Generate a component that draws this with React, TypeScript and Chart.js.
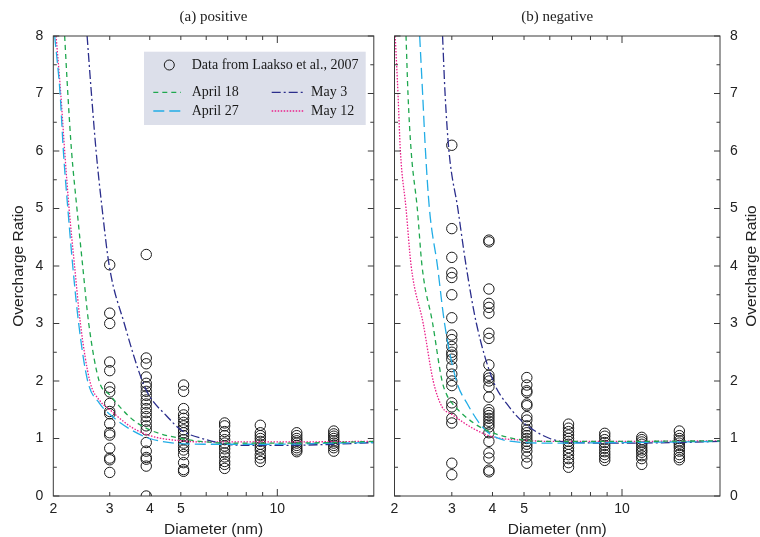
import { useEffect, useRef } from "react";
import { Chart, registerables } from "chart.js";

Chart.register(...registerables);

// ---------- data ----------
const columnDiameters = [3.0, 3.9, 5.1, 6.85, 8.85, 11.5, 15.0];

const positiveColumns = [
  [4.02, 3.18, 3.0, 2.33, 2.18, 1.89, 1.81, 1.61, 1.47, 1.43, 1.26, 1.1, 1.06, 0.83, 0.66, 0.63, 0.41],
  [4.2, 2.4, 2.3, 2.07, 1.96, 1.9, 1.82, 1.75, 1.67, 1.6, 1.52, 1.45, 1.38, 1.3, 1.22, 1.15, 0.93, 0.78, 0.67, 0.64, 0.52, 0.0],
  [1.93, 1.82, 1.52, 1.41, 1.35, 1.28, 1.22, 1.15, 1.1, 1.05, 0.98, 0.92, 0.86, 0.8, 0.72, 0.58, 0.46, 0.43],
  [1.27, 1.22, 1.12, 1.05, 0.98, 0.92, 0.87, 0.82, 0.75, 0.68, 0.6, 0.55, 0.48],
  [1.23, 1.1, 1.05, 1.0, 0.95, 0.9, 0.85, 0.8, 0.72, 0.66, 0.6],
  [1.1, 1.05, 1.0, 0.96, 0.92, 0.88, 0.84, 0.8, 0.77],
  [1.13, 1.08, 1.04, 1.0, 0.96, 0.92, 0.88, 0.84, 0.78],
];

const negativeColumns = [
  [6.1, 4.65, 4.15, 3.88, 3.8, 3.5, 3.1, 2.8, 2.72, 2.6, 2.5, 2.45, 2.38, 2.25, 2.12, 2.0, 1.92, 1.62, 1.55, 1.35, 1.27, 0.57, 0.37],
  [4.45, 4.42, 3.6, 3.35, 3.28, 3.18, 2.83, 2.74, 2.28, 2.1, 2.05, 2.0, 1.9, 1.72, 1.5, 1.45, 1.4, 1.35, 1.3, 1.25, 1.2, 1.1, 0.95, 0.75, 0.66, 0.45, 0.42],
  [2.06, 1.93, 1.83, 1.8, 1.6, 1.57, 1.38, 1.32, 1.22, 1.15, 1.1, 1.05, 1.0, 0.95, 0.9, 0.85, 0.78, 0.68, 0.57],
  [1.25, 1.18, 1.12, 1.06, 1.0, 0.95, 0.9, 0.84, 0.78, 0.72, 0.65, 0.58, 0.5],
  [1.09, 1.04, 0.98, 0.93, 0.88, 0.83, 0.77, 0.72, 0.67, 0.62],
  [1.02, 0.98, 0.94, 0.9, 0.85, 0.8, 0.76, 0.7, 0.65, 0.55],
  [1.13, 1.05, 1.0, 0.96, 0.92, 0.88, 0.84, 0.78, 0.72, 0.67, 0.63],
];

// positive panel curves
const posApr18D = [2.17, 2.22, 2.28, 2.37, 2.47, 2.58, 2.78, 3.0, 3.5, 4.0, 5.0, 6.0, 7.0, 10, 15, 20];
const posApr18V = [8, 7, 6, 5, 4, 3, 2, 1.76, 1.35, 1.15, 1.0, 0.94, 0.92, 0.92, 0.93, 0.95];
const posApr27D = [2.02, 2.1, 2.15, 2.22, 2.3, 2.4, 2.56, 2.78, 3.0, 3.5, 4.0, 5.0, 6.0, 8.0, 10, 15, 20];
const posApr27V = [8, 7, 6, 5, 4, 3, 2, 1.62, 1.42, 1.15, 1.0, 0.91, 0.9, 0.9, 0.9, 0.92, 0.93];
const posMay3D = [2.55, 2.63, 2.72, 2.84, 2.99, 3.33, 3.79, 4.0, 4.5, 5.0, 6.0, 7.0, 8.0, 10, 15, 20];
const posMay3V = [8, 7, 6, 5, 4, 3, 2, 1.73, 1.4, 1.15, 0.98, 0.9, 0.88, 0.88, 0.9, 0.93];
const posMay12D = [2.04, 2.11, 2.17, 2.24, 2.33, 2.43, 2.6, 2.8, 3.0, 3.5, 4.0, 5.0, 6.0, 10, 20];
const posMay12V = [8, 7, 6, 5, 4, 3, 2, 1.65, 1.5, 1.2, 1.05, 0.96, 0.94, 0.94, 0.95];

// negative panel curves
const negApr18D = [2.17, 2.2, 2.25, 2.35, 2.43, 2.62, 2.8, 2.9, 3.0, 3.5, 4.0, 5.0, 6.0, 10, 20];
const negApr18V = [8, 7, 6, 5, 4, 3, 2, 1.75, 1.62, 1.27, 1.1, 0.97, 0.95, 0.95, 0.96];
const negApr27D = [2.39, 2.44, 2.49, 2.56, 2.71, 2.85, 3.1, 3.35, 3.7, 4.0, 5.0, 6.0, 10, 20];
const negApr27V = [8, 7, 6, 5, 4, 3, 2, 1.6, 1.22, 1.05, 0.93, 0.92, 0.93, 0.95];
const negMay3D = [2.81, 2.86, 2.94, 3.13, 3.32, 3.57, 4.02, 4.5, 5.0, 6.0, 7.0, 10, 15, 20];
const negMay3V = [8, 7, 6, 5, 4, 3, 2, 1.55, 1.27, 1.0, 0.93, 0.92, 0.93, 0.95];
const negMay12D = [2.01, 2.05, 2.085, 2.17, 2.25, 2.45, 2.63, 2.8, 3.0, 3.5, 4.0, 5.0, 6.0, 10, 20];
const negMay12V = [8, 7, 6, 5, 4, 3, 2, 1.55, 1.42, 1.17, 1.03, 0.97, 0.95, 0.95, 0.96];

const xTickLabels = [2, 3, 4, 5, 10];
const xMinorTicks = [3, 4, 5, 6, 7, 8, 9];
const xMajorTicks = [10];
const yTickValues = [0, 1, 2, 3, 4, 5, 6, 7, 8];
const yMinorTicks = [0.5, 1.5, 2.5, 3.5, 4.5, 5.5, 6.5, 7.5];

const seriesLabels = ["April 18", "April 27", "May 3", "May 12"];
const dataLabel = "Data from Laakso et al., 2007";

// ---------- styles ----------
const COLORS = ["#1fa84f", "#22ade6", "#2b2e8c", "#ea1f8a"];
const DASHES = [[5, 4], [11, 5], [9, 3, 2, 3], [1.5, 1.5]];
const AXIS_COLOR = "#3a3a3a";
const SANS = "'Liberation Sans', Arial, sans-serif";
const SERIF = "'Liberation Serif', 'Times New Roman', serif";

function curveDataset(label: string, ds: number[], vs: number[], idx: number) {
  return {
    type: "line" as const,
    label,
    data: ds.map((d, i) => ({ x: d, y: vs[i] })),
    borderColor: COLORS[idx],
    borderWidth: 1.3,
    borderDash: DASHES[idx],
    pointRadius: 0,
    fill: false,
    cubicInterpolationMode: "monotone" as const,
    order: 0,
  };
}

function pointsDataset(columns: number[][]) {
  const pts: { x: number; y: number }[] = [];
  columns.forEach((col, i) => col.forEach((v) => pts.push({ x: columnDiameters[i], y: v })));
  return {
    type: "scatter" as const,
    label: dataLabel,
    data: pts,
    pointRadius: 5.2,
    pointBorderWidth: 1,
    pointBorderColor: "#1a1a1a",
    pointBackgroundColor: "rgba(0,0,0,0)",
    showLine: false,
    order: 1,
  };
}

const framePlugin = {
  id: "frame",
  afterDatasetsDraw(chart: any) {
    const { ctx, chartArea: a, scales } = chart;
    const xs = scales.x;
    const ys = scales.y;
    ctx.save();
    ctx.strokeStyle = AXIS_COLOR;
    ctx.lineWidth = 1;
    ctx.strokeRect(a.left, a.top, a.right - a.left, a.bottom - a.top);
    ctx.beginPath();
    const yt = (v: number, L: number) => {
      const p = ys.getPixelForValue(v);
      ctx.moveTo(a.left, p);
      ctx.lineTo(a.left + L, p);
      ctx.moveTo(a.right, p);
      ctx.lineTo(a.right - L, p);
    };
    yTickValues.forEach((v) => yt(v, 6));
    yMinorTicks.forEach((v) => yt(v, 3.5));
    const xt = (v: number, L: number) => {
      const p = xs.getPixelForValue(v);
      ctx.moveTo(p, a.top);
      ctx.lineTo(p, a.top + L);
      ctx.moveTo(p, a.bottom);
      ctx.lineTo(p, a.bottom - L);
    };
    xMinorTicks.forEach((v) => xt(v, 4));
    xMajorTicks.forEach((v) => xt(v, 7));
    ctx.stroke();
    ctx.restore();
  },
};

const legendPlugin = {
  id: "boxLegend",
  afterDatasetsDraw(chart: any) {
    const opts = chart.options.plugins.boxLegend;
    if (!opts || !opts.show) return;
    const { ctx } = chart;
    ctx.save();
    ctx.fillStyle = "#dcdfea";
    ctx.fillRect(144, 51.7, 221.7, 73.3);
    // circle marker
    ctx.beginPath();
    ctx.arc(169.3, 65, 5, 0, Math.PI * 2);
    ctx.strokeStyle = "#1a1a1a";
    ctx.lineWidth = 1;
    ctx.stroke();
    ctx.fillStyle = "#1a1a1a";
    ctx.font = `14px ${SERIF}`;
    ctx.textBaseline = "middle";
    ctx.textAlign = "left";
    ctx.fillText(dataLabel, 191.7, 65);
    const items = [
      { i: 0, x0: 153.3, x1: 181, tx: 191.7, y: 92.3 },
      { i: 1, x0: 153.3, x1: 181, tx: 191.7, y: 111 },
      { i: 2, x0: 271.7, x1: 303.3, tx: 311, y: 92.3 },
      { i: 3, x0: 271.7, x1: 303.3, tx: 311, y: 111 },
    ];
    items.forEach((it) => {
      ctx.beginPath();
      ctx.setLineDash(DASHES[it.i]);
      ctx.strokeStyle = COLORS[it.i];
      ctx.lineWidth = 1.3;
      ctx.moveTo(it.x0, it.y);
      ctx.lineTo(it.x1, it.y);
      ctx.stroke();
      ctx.setLineDash([]);
      ctx.fillStyle = "#1a1a1a";
      ctx.fillText(seriesLabels[it.i], it.tx, it.y);
    });
    ctx.restore();
  },
};

const rightTitlePlugin = {
  id: "rightTitle",
  afterDraw(chart: any) {
    const opts = chart.options.plugins.rightTitle;
    if (!opts || !opts.text) return;
    const { ctx, chartArea: a } = chart;
    ctx.save();
    ctx.translate(chart.width - 8, (a.top + a.bottom) / 2);
    ctx.rotate(-Math.PI / 2);
    ctx.font = `15.5px ${SANS}`;
    ctx.fillStyle = "#222";
    ctx.textAlign = "center";
    ctx.textBaseline = "middle";
    ctx.fillText(opts.text, 0, 0);
    ctx.restore();
  },
};

interface PanelProps {
  title: string;
  side: "left" | "right";
  columns: number[][];
  curves: [number[], number[]][];
}

function Panel({ title, side, columns, curves }: PanelProps) {
  const ref = useRef<HTMLCanvasElement>(null);
  useEffect(() => {
    if (!ref.current) return;
    const isLeft = side === "left";
    const chart = new Chart(ref.current, {
      type: "scatter",
      data: {
        datasets: [
          ...curves.map(([d, v], i) => curveDataset(seriesLabels[i], d, v, i)),
          pointsDataset(columns),
        ] as any,
      },
      options: {
        responsive: false,
        animation: false,
        layout: {
          padding: isLeft
            ? { left: 0, right: 1.7, top: 0, bottom: 0 }
            : { left: 14.5, right: 0, top: 0, bottom: 0 },
        },
        scales: {
          x: {
            type: "logarithmic",
            min: 2,
            max: 20,
            grid: { display: false, drawTicks: false, tickLength: 0 },
            border: { display: false },
            afterBuildTicks: (s: any) => {
              s.ticks = xTickLabels.map((v) => ({ value: v }));
            },
            afterFit: (s: any) => {
              s.height = 41;
            },
            ticks: {
              autoSkip: false,
              maxRotation: 0,
              minRotation: 0,
              padding: 5,
              color: "#222",
              font: { family: SANS, size: 14 },
              callback: (v: any) => String(v),
            },
            title: {
              display: true,
              text: "Diameter (nm)",
              color: "#222",
              font: { family: SANS, size: 15.5, lineHeight: 1 },
              padding: { top: 0, bottom: 0 },
            },
          },
          y: {
            type: "linear",
            position: isLeft ? "left" : "right",
            min: 0,
            max: 8,
            grid: { display: false, drawTicks: false, tickLength: 0 },
            border: { display: false },
            afterBuildTicks: (s: any) => {
              s.ticks = yTickValues.map((v) => ({ value: v }));
            },
            afterFit: (s: any) => {
              s.width = isLeft ? 53.3 : 40;
            },
            ticks: {
              padding: 10,
              color: "#222",
              font: { family: SANS, size: 14 },
              callback: (v: any) => String(v),
            },
            title: {
              display: isLeft,
              text: "Overcharge Ratio",
              color: "#222",
              font: { family: SANS, size: 15.5, lineHeight: 1.2 },
              padding: { top: 9, bottom: 0 },
            },
          },
        },
        plugins: {
          legend: { display: false },
          tooltip: { enabled: false },
          title: {
            display: true,
            text: title,
            fullSize: false,
            color: "#222",
            font: { family: SERIF, size: 15, weight: "normal", lineHeight: 1.2 },
            padding: { top: 8, bottom: 10 },
          },
          boxLegend: { show: isLeft },
          rightTitle: { text: isLeft ? "" : "Overcharge Ratio" },
        } as any,
      },
      plugins: [framePlugin, legendPlugin, rightTitlePlugin],
    });
    return () => chart.destroy();
  }, [title, side, columns, curves]);

  return (
    <canvas
      ref={ref}
      width={380}
      height={537}
      style={{ position: "absolute", top: 0, left: side === "left" ? 0 : 380, width: 380, height: 537 }}
    />
  );
}

const positiveCurves: [number[], number[]][] = [
  [posApr18D, posApr18V],
  [posApr27D, posApr27V],
  [posMay3D, posMay3V],
  [posMay12D, posMay12V],
];
const negativeCurves: [number[], number[]][] = [
  [negApr18D, negApr18V],
  [negApr27D, negApr27V],
  [negMay3D, negMay3V],
  [negMay12D, negMay12V],
];

export default function App() {
  return (
    <div style={{ position: "absolute", left: 0, top: 0, width: 760, height: 537, background: "#fff" }}>
      <Panel title="(a) positive" side="left" columns={positiveColumns} curves={positiveCurves} />
      <Panel title="(b) negative" side="right" columns={negativeColumns} curves={negativeCurves} />
    </div>
  );
}
